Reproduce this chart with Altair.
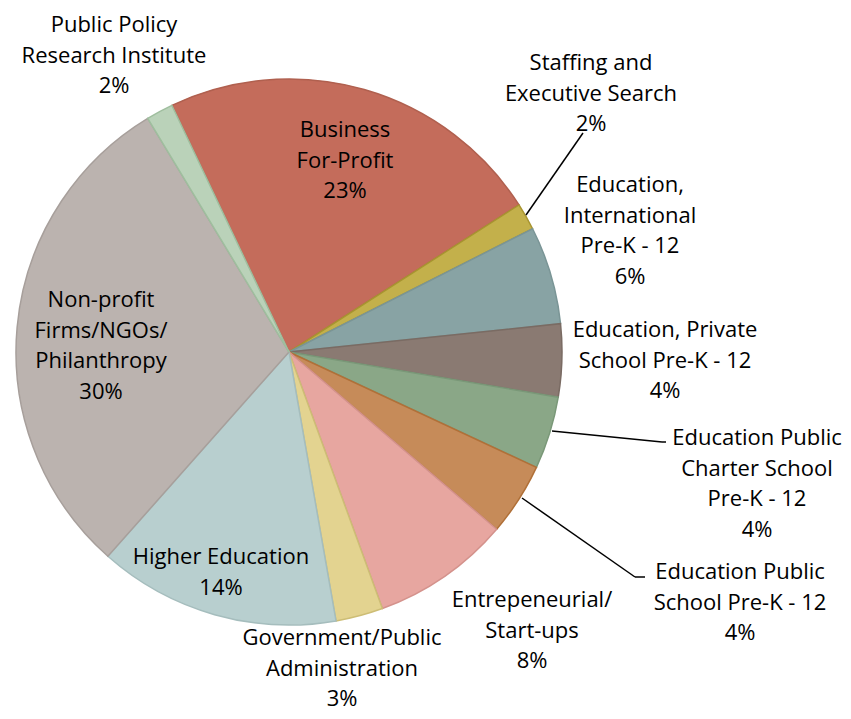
import math
import altair as alt
import pandas as pd

# ---- data ----
categories = [
    "Business For-Profit", "Staffing and Executive Search", "Education, International Pre-K - 12",
    "Education, Private School Pre-K - 12", "Education Public Charter School Pre-K - 12",
    "Education Public School Pre-K - 12", "Entrepeneurial/Start-ups", "Government/Public Administration",
    "Higher Education", "Non-profit Firms/NGOs/Philanthropy", "Public Policy Research Institute",
]
values = [23.0, 1.6, 5.8, 4.3, 4.3, 4.3, 8.2, 2.8, 14.3, 29.8, 1.6]
label_names = [
    "Business\nFor-Profit", "Staffing and\nExecutive Search", "Education,\nInternational\nPre-K - 12",
    "Education, Private\nSchool Pre-K - 12", "Education Public\nCharter School\nPre-K - 12",
    "Education Public\nSchool Pre-K - 12", "Entrepeneurial/\nStart-ups", "Government/Public\nAdministration",
    "Higher Education", "Non-profit\nFirms/NGOs/\nPhilanthropy", "Public Policy\nResearch Institute",
]

# ---- styles / layout ----
fills = ["#C46C5B", "#C3B04B", "#88A3A4", "#8A7A72", "#8AA787", "#C68B59",
         "#E7A6A0", "#E3D390", "#B8CFCF", "#BBB3AF", "#BAD2B9"]
strokes = ["#B0604F", "#A89430", "#7A9596", "#7A6B63", "#7A9878", "#B07038",
           "#D4928C", "#CDBD75", "#A5BDBD", "#A79F9B", "#9FBE9E"]
center_x, center_y, radius = 281, 344, 273
start = math.radians(-25.4)
# first-line centre of each label (svg px)
label_x = [337, 583, 622, 657, 749, 732, 524, 334, 213, 93, 106]
label_y = [122, 55, 177, 322, 430, 564, 592, 630, 549, 292, 17]
leaders = [  # x, y, x2, y2 (svg px)
    (518, 207, 575, 125),
    (544, 423, 654, 434), (654, 434, 658, 434),
    (514, 490, 627, 569), (627, 569, 637, 569),
]

total = sum(values)
pie_df = pd.DataFrame({"cat": categories, "value": values, "idx": list(range(len(values)))})
lab_df = pd.DataFrame({
    "text": [f"{n}\n{round(v / total * 100)}%" for n, v in zip(label_names, values)],
    "x": label_x, "y": label_y,
})
lead_df = pd.DataFrame(leaders, columns=["x", "y", "x2", "y2"])

pie = alt.Chart(pie_df).mark_arc(radius=radius, strokeWidth=1.5).encode(
    theta=alt.Theta("value:Q", stack=True, scale=alt.Scale(range=[start, start + 2 * math.pi])),
    color=alt.Color("cat:N", scale=alt.Scale(domain=categories, range=fills), legend=None),
    stroke=alt.Stroke("cat:N", scale=alt.Scale(domain=categories, range=strokes), legend=None),
    order=alt.Order("idx:Q"),
    x=alt.value(center_x), y=alt.value(center_y),
)

lines = alt.Chart(lead_df).mark_rule(color="black", strokeWidth=1.5).encode(
    x=alt.X("x:Q", scale=None), y=alt.Y("y:Q", scale=None),
    x2="x2:Q", y2="y2:Q",
)

labels = alt.Chart(lab_df).mark_text(
    font="Open Sans", fontSize=22, lineHeight=30.5, align="center", baseline="middle",
    lineBreak="\n", color="black",
).encode(
    x=alt.X("x:Q", scale=None), y=alt.Y("y:Q", scale=None), text="text:N",
)

chart = alt.layer(pie, lines, labels).properties(
    width=835, height=703, autosize="none", padding=0,
).configure_view(stroke=None)

chart.save("out.html", embed_options={"renderer": "svg", "actions": False})
